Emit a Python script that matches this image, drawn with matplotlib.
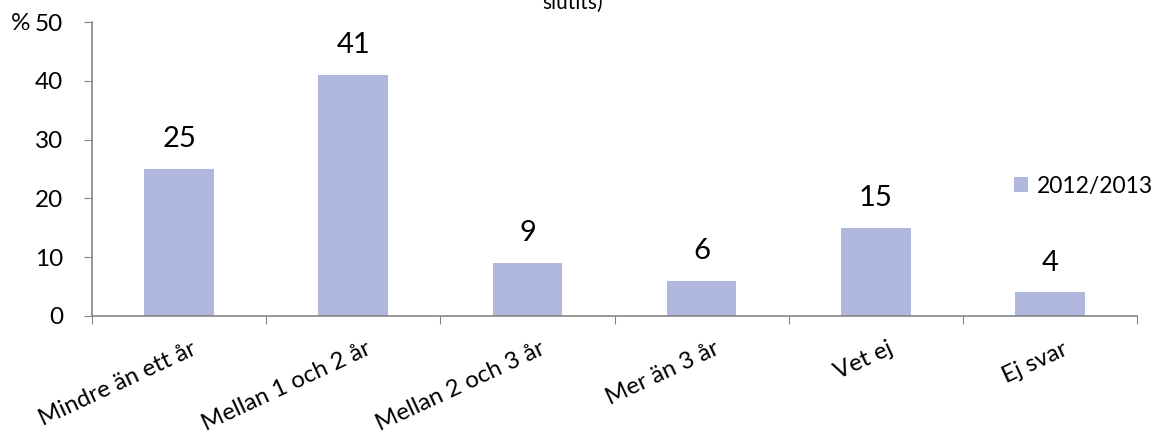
import matplotlib
matplotlib.use("Agg")
import matplotlib.pyplot as plt
import matplotlib.transforms as mtransforms
import numpy as np

categories = ["Mindre än ett år", "Mellan 1 och 2 år", "Mellan 2 och 3 år",
              "Mer än 3 år", "Vet ej", "Ej svar"]
values = [25, 41, 9, 6, 15, 4]
series_name = "2012/2013"
yticks = [0, 10, 20, 30, 40, 50]

plt.rcParams["font.family"] = ["Lato", "DejaVu Sans"]
bar_color = "#B1B8DE"
axis_color = "#868686"
fs = 16.5

fig = plt.figure(figsize=(11.55, 4.34), dpi=100)
ax = fig.add_axes([0.0797, 0.2719, 0.9047, 0.6774])

x = np.arange(len(categories))
ax.bar(x, values, width=0.40, color=bar_color, label=series_name, zorder=2)

for xi, v in zip(x, values):
    ax.annotate(str(v), (xi, v), xytext=(0, 12), textcoords="offset points",
                ha="center", va="bottom", fontsize=21)

ax.set_xlim(-0.5, len(categories) - 0.5)
ax.set_ylim(0, 50)
ax.set_yticks(yticks)
ax.tick_params(axis="y", labelsize=fs + 1, length=6, color=axis_color, pad=15)

# ticks at the category boundaries, labels at the bar centres
ax.set_xticks(np.arange(len(categories) + 1) - 0.5)
ax.set_xticklabels([])
ax.tick_params(axis="x", length=6, color=axis_color)
ax.set_xticks(x, minor=True)
ax.set_xticklabels(categories, minor=True, rotation=25, ha="right",
                   rotation_mode="anchor", fontsize=fs + 0.8)
ax.tick_params(axis="x", which="minor", length=0, pad=16)
offset = mtransforms.ScaledTranslation(12 / 100, 0, fig.dpi_scale_trans)
for lbl in ax.get_xticklabels(minor=True):
    lbl.set_transform(lbl.get_transform() + offset)

for side in ["top", "right"]:
    ax.spines[side].set_visible(False)
for side in ["left", "bottom"]:
    ax.spines[side].set_color(axis_color)
    ax.spines[side].set_linewidth(1.2)

fig.text(11 / 1155, 1 - 24 / 434, "%", fontsize=fs + 1, va="center", ha="left")
fig.text(573 / 1155, 1 - 9 / 434, "slutits)", fontsize=15, ha="center",
         va="baseline")

ax.legend(loc="center left", bbox_to_anchor=(1014 / 1155, 1 - 186 / 434),
          bbox_transform=fig.transFigure, frameon=False, fontsize=fs,
          handlelength=0.6, handleheight=0.6, handletextpad=0.4,
          borderpad=0, borderaxespad=0)

fig.savefig("out.png", dpi=100)
